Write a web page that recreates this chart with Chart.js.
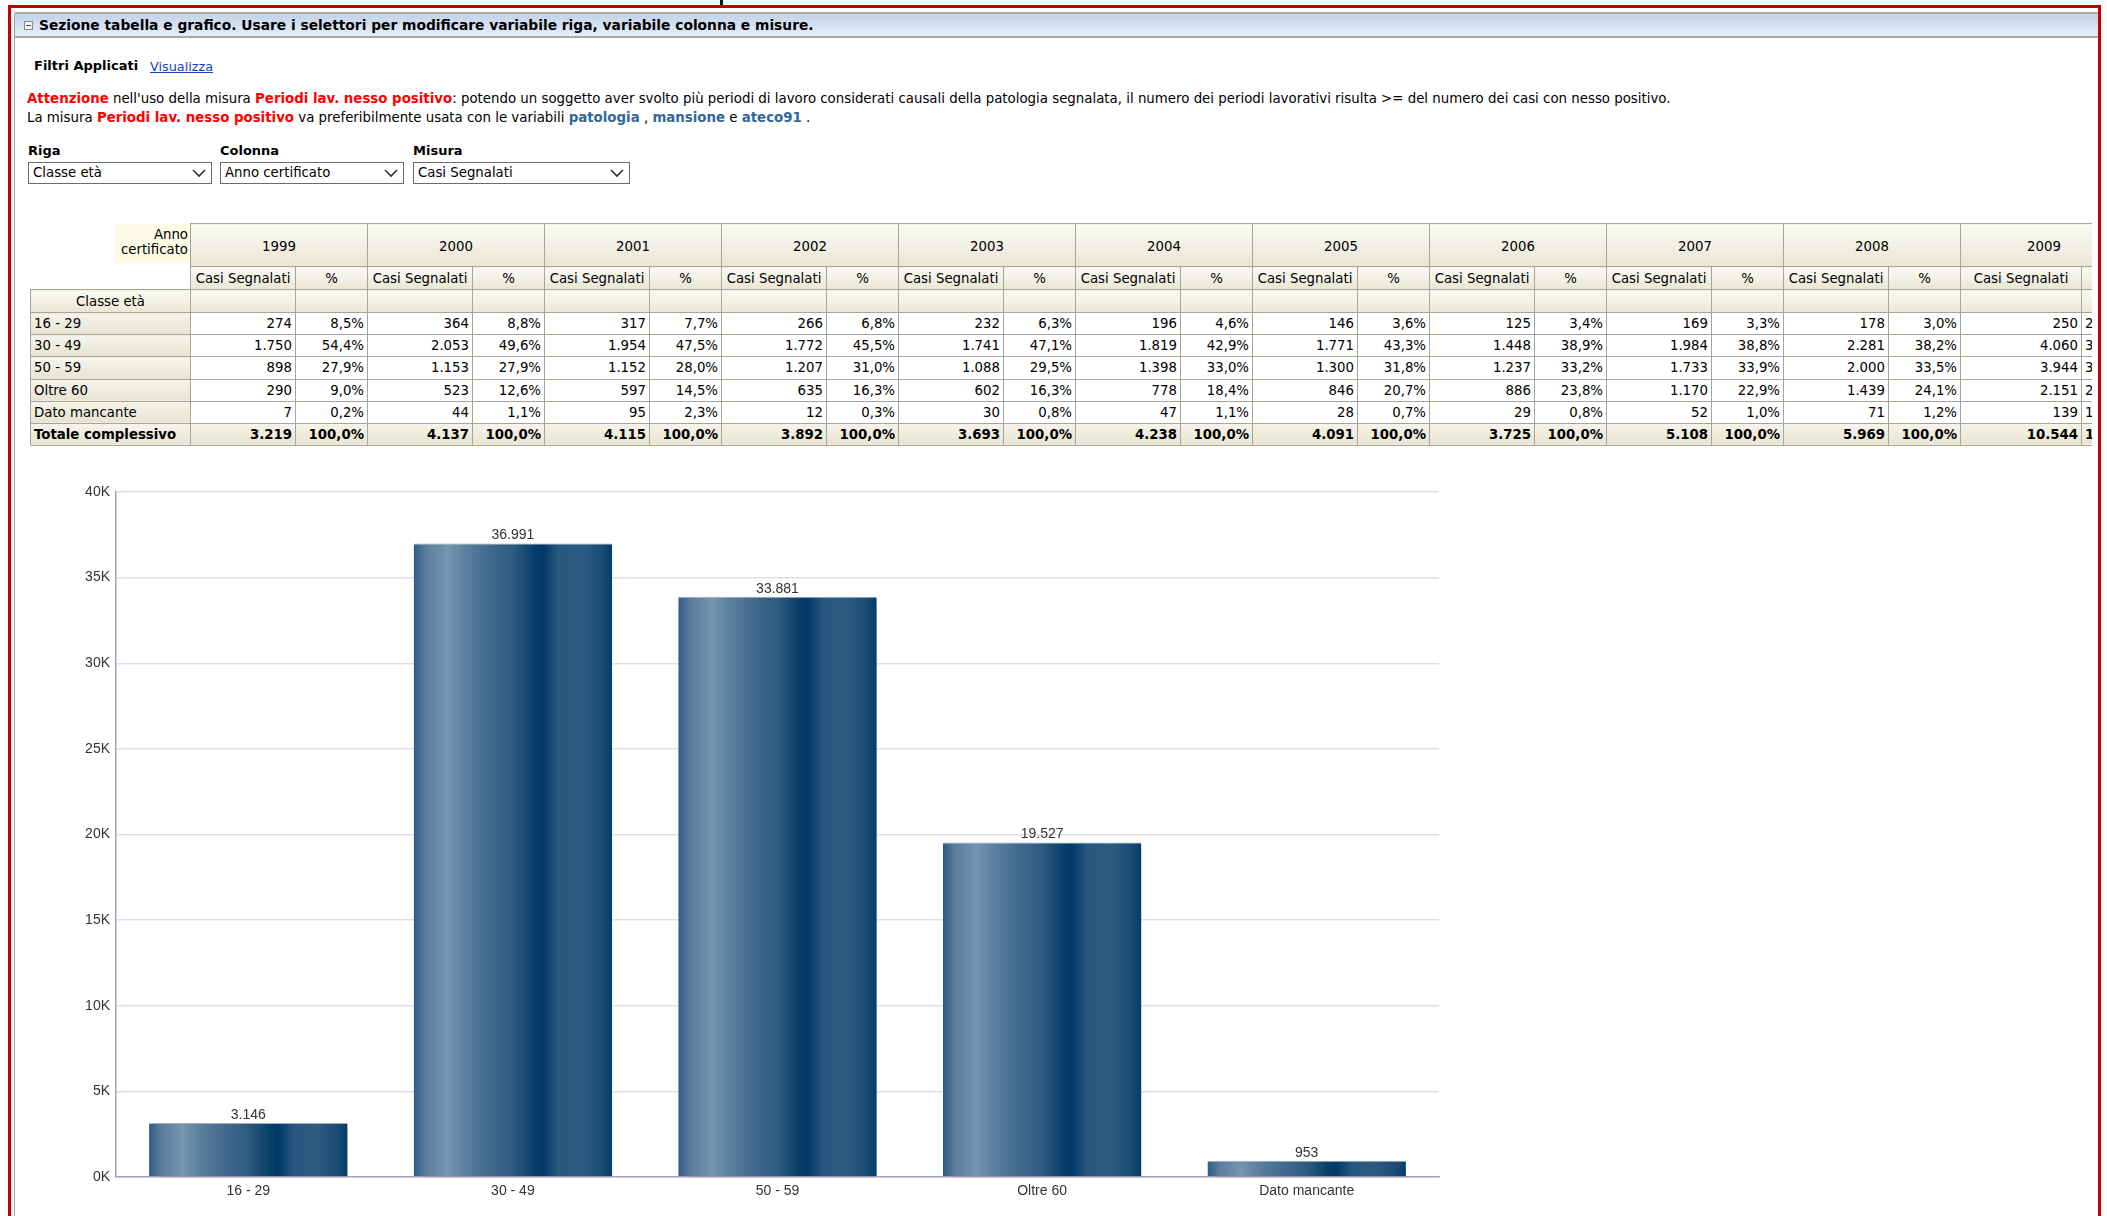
<!DOCTYPE html>
<html lang="it">
<head>
<meta charset="utf-8">
<title>Sezione tabella e grafico</title>
<script src="https://cdn.jsdelivr.net/npm/chart.js"></script>
<style>
  html, body { margin: 0; padding: 0; background: #fff; }
  body { width: 2107px; height: 1216px; overflow: hidden; position: relative;
         font-family: "DejaVu Sans", Verdana, sans-serif; font-size: 13px; color: #000; }
  .abs { position: absolute; }
  .tick { left: 720px; top: 0; width: 3px; height: 7px; background: #111; }
  .frame { left: 8px; top: 5px; width: 2087px; height: 1300px; border: 3px solid #c40000; }
  .panel { left: 14px; top: 12px; width: 2086px; height: 1300px; border-left: 1px solid #a8a8a0;
           border-top: 1px solid #a8a8a0; border-top-left-radius: 3px; }
  .bar { left: 15px; top: 12px; width: 2083px; height: 22px; border-top: 2px solid #a9a9a0;
         border-bottom: 2px solid #a9a9a0; background: linear-gradient(#c4d2e6, #e5effc); }
  .bar .ico { left: 9px; top: 7px; width: 7px; height: 7px; border: 1px solid #8a8a8a; background: #f4f4f4; }
  .bar .ico:after { content: ""; position: absolute; left: 1px; top: 3px; width: 5px; height: 1px; background: #555; }
  .bar .ttl { left: 24px; top: 3px; font-weight: bold; font-size: 13.8px; white-space: nowrap; }
  .filtri { left: 34px; top: 58px; font-weight: bold; font-size: 13px; }
  .vis { left: 150px; top: 59px; font-size: 12.8px; color: #1a3fbf; text-decoration: underline; }
  .warn { left: 27px; font-size: 13.35px; white-space: nowrap; }
  .red { color: #ff0000; font-weight: bold; }
  .blu { color: #336699; font-weight: bold; }
  .lbl { font-weight: bold; font-size: 13px; top: 143px; }
  .sel { top: 162px; height: 20px; border: 1px solid #6c6c6c; background: #fff; font-size: 13.3px;
         line-height: 20px; padding-left: 4px; box-sizing: content-box; }
  .sel svg { position: absolute; right: 5px; top: 6px; }
  .tblwrap { left: 30px; top: 223px; width: 2062px; height: 228px; overflow: hidden; }
  table { border-collapse: collapse; table-layout: fixed; font-size: 13.3px; }
  td, th { border: 1px solid #a7a498; padding: 0 3px; height: 21px; white-space: nowrap; overflow: hidden; }
  th { font-weight: normal; background: linear-gradient(#fbfbf3, #e8e6d4); }
  th.yr { height: 40px; padding-top: 2px; }
  tr.sub th { height: 22px; }
  tr.cl th { height: 22px; }
  td { text-align: right; height: 21.2px; }
  td.last { text-align: left; }
  td.rh { text-align: left; background: linear-gradient(#f6f5ea, #e6e3d0); }
  tr.tot td { font-weight: bold; background: linear-gradient(#f6f5ea, #e6e3d0); }
  th.corner { border: none; background: none; text-align: right; padding: 0; vertical-align: top; }
  th.corner div { margin-left: 84px; background: #fbfbe6; text-align: right; line-height: 15px;
                  padding: 3px 2px 6px 0; }
  th.blank { border: none; background: none; }
  .chartbox { left: 30px; top: 470px; width: 1430px; height: 745px; }
</style>
</head>
<body>
<div class="abs tick"></div>
<div class="abs panel"></div>
<div class="abs bar">
  <div class="abs ico"></div>
  <div class="abs ttl">Sezione tabella e grafico. Usare i selettori per modificare variabile riga, variabile colonna e misure.</div>
</div>
<div class="abs frame"></div>

<div class="abs filtri">Filtri Applicati</div>
<div class="abs vis">Visualizza</div>

<div class="abs warn" style="top:91px"><span class="red">Attenzione</span> nell'uso della misura <span class="red">Periodi lav. nesso positivo</span>: potendo un soggetto aver svolto più periodi di lavoro considerati causali della patologia segnalata, il numero dei periodi lavorativi risulta &gt;= del numero dei casi con nesso positivo.</div>
<div class="abs warn" style="top:110px">La misura <span class="red">Periodi lav. nesso positivo</span> va preferibilmente usata con le variabili <span class="blu">patologia</span> , <span class="blu">mansione</span> e <span class="blu">ateco91</span> .</div>

<div class="abs lbl" style="left:28px">Riga</div>
<div class="abs lbl" style="left:220px">Colonna</div>
<div class="abs lbl" style="left:413px">Misura</div>
<div class="abs sel" style="left:28px;width:178px">Classe età<svg width="14" height="9"><polyline points="1,1 7,7 13,1" fill="none" stroke="#333" stroke-width="1.6"/></svg></div>
<div class="abs sel" style="left:220px;width:178px">Anno certificato<svg width="14" height="9"><polyline points="1,1 7,7 13,1" fill="none" stroke="#333" stroke-width="1.6"/></svg></div>
<div class="abs sel" style="left:413px;width:211px">Casi Segnalati<svg width="14" height="9"><polyline points="1,1 7,7 13,1" fill="none" stroke="#333" stroke-width="1.6"/></svg></div>

<div class="abs tblwrap"><table id="tbl"></table></div>

<div class="abs chartbox"><canvas id="chart"></canvas></div>

<script>
// grafico: totale casi segnalati per classe di età
const categories = ['16 - 29', '30 - 49', '50 - 59', 'Oltre 60', 'Dato mancante'];
const casiSegnalati = [3146, 36991, 33881, 19527, 953];
const yTicks = [0, 5000, 10000, 15000, 20000, 25000, 30000, 35000, 40000];

// tabella
const years = ['1999', '2000', '2001', '2002', '2003', '2004', '2005', '2006', '2007', '2008', '2009'];
const rowLabels = ['16 - 29', '30 - 49', '50 - 59', 'Oltre 60', 'Dato mancante'];
const count16_29 = ['274', '364', '317', '266', '232', '196', '146', '125', '169', '178', '250'];
const pct16_29 = ['8,5%', '8,8%', '7,7%', '6,8%', '6,3%', '4,6%', '3,6%', '3,4%', '3,3%', '3,0%', '2,4%'];
const count30_49 = ['1.750', '2.053', '1.954', '1.772', '1.741', '1.819', '1.771', '1.448', '1.984', '2.281', '4.060'];
const pct30_49 = ['54,4%', '49,6%', '47,5%', '45,5%', '47,1%', '42,9%', '43,3%', '38,9%', '38,8%', '38,2%', '38,5%'];
const count50_59 = ['898', '1.153', '1.152', '1.207', '1.088', '1.398', '1.300', '1.237', '1.733', '2.000', '3.944'];
const pct50_59 = ['27,9%', '27,9%', '28,0%', '31,0%', '29,5%', '33,0%', '31,8%', '33,2%', '33,9%', '33,5%', '37,4%'];
const countOltre60 = ['290', '523', '597', '635', '602', '778', '846', '886', '1.170', '1.439', '2.151'];
const pctOltre60 = ['9,0%', '12,6%', '14,5%', '16,3%', '16,3%', '18,4%', '20,7%', '23,8%', '22,9%', '24,1%', '20,4%'];
const countMancante = ['7', '44', '95', '12', '30', '47', '28', '29', '52', '71', '139'];
const pctMancante = ['0,2%', '1,1%', '2,3%', '0,3%', '0,8%', '1,1%', '0,7%', '0,8%', '1,0%', '1,2%', '1,3%'];
const countTotale = ['3.219', '4.137', '4.115', '3.892', '3.693', '4.238', '4.091', '3.725', '5.108', '5.969', '10.544'];

function buildTable() {
  const counts = [count16_29, count30_49, count50_59, countOltre60, countMancante];
  const pcts = [pct16_29, pct30_49, pct50_59, pctOltre60, pctMancante];
  const n = years.length;
  let total = 160;
  let h = '<colgroup><col style="width:160px">';
  years.forEach((y, i) => {
    const w = i == n - 1 ? 121 : 105;
    const wp = i == n - 1 ? 46 : 72;
    total += w + wp;
    h += `<col style="width:${w}px"><col style="width:${wp}px">`;
  });
  h += '</colgroup>';
  const pc = i => (i == n - 1 ? ' class="last"' : '');
  h += '<tr><th class="corner"><div>Anno<br>certificato</div></th>';
  years.forEach(y => h += `<th class="yr" colspan="2">${y}</th>`);
  h += '</tr><tr class="sub"><th class="blank"></th>';
  years.forEach(() => h += '<th>Casi Segnalati</th><th>%</th>');
  h += '</tr><tr class="cl"><th>Classe età</th>';
  years.forEach(() => h += '<th></th><th></th>');
  h += '</tr>';
  rowLabels.forEach((r, k) => {
    h += `<tr><td class="rh">${r}</td>`;
    years.forEach((_, i) => h += `<td>${counts[k][i]}</td><td${pc(i)}>${pcts[k][i]}</td>`);
    h += '</tr>';
  });
  h += '<tr class="tot"><td class="rh">Totale complessivo</td>';
  years.forEach((_, i) => h += `<td>${countTotale[i]}</td><td${pc(i)}>100,0%</td>`);
  h += '</tr>';
  const t = document.getElementById('tbl');
  t.style.width = total + 'px';
  t.innerHTML = h;
}
buildTable();

const barPct = 0.75;

function barGradient(c) {
  const chart = c.chart;
  const xs = chart.scales.x;
  if (!xs || c.dataIndex === undefined || !xs.width) return '#2c5a82';
  const cx = xs.getPixelForValue(c.dataIndex);
  const w = xs.width / categories.length * barPct;
  const g = chart.ctx.createLinearGradient(cx - w / 2, 0, cx + w / 2, 0);
  g.addColorStop(0.00, '#2f5b83');
  g.addColorStop(0.06, '#5a7d9c');
  g.addColorStop(0.17, '#7595b0');
  g.addColorStop(0.27, '#5a7d9d');
  g.addColorStop(0.38, '#416a8e');
  g.addColorStop(0.50, '#2f5a80');
  g.addColorStop(0.60, '#0b406d');
  g.addColorStop(0.65, '#003868');
  g.addColorStop(0.73, '#28587f');
  g.addColorStop(0.85, '#2d5b82');
  g.addColorStop(0.95, '#194b76');
  g.addColorStop(1.00, '#063b68');
  return g;
}

const fmt = v => String(v).replace(/\B(?=(\d{3})+(?!\d))/g, '.');

// ombra sotto le barre + etichette dei valori
const barDecor = {
  id: 'barDecor',
  beforeDatasetsDraw(chart) {
    const ctx = chart.ctx;
    ctx.save();
    ctx.shadowColor = 'rgba(0,0,0,0.32)';
    ctx.shadowBlur = 10;
    ctx.shadowOffsetX = 6;
    ctx.shadowOffsetY = 4;
  },
  afterDatasetsDraw(chart) {
    const ctx = chart.ctx;
    ctx.restore();
    ctx.save();
    ctx.font = '14px "Liberation Sans", Arial, sans-serif';
    ctx.fillStyle = '#333';
    ctx.textAlign = 'center';
    ctx.textBaseline = 'bottom';
    chart.getDatasetMeta(0).data.forEach((el, i) => {
      ctx.fillText(fmt(casiSegnalati[i]), el.x, el.y - 1);
    });
    ctx.restore();
  }
};

Chart.defaults.font.family = '"Liberation Sans", Arial, sans-serif';

new Chart(document.getElementById('chart'), {
  type: 'bar',
  data: {
    labels: categories,
    datasets: [{
      label: 'Casi Segnalati',
      data: casiSegnalati,
      backgroundColor: barGradient,
      borderColor: '#a9bccd',
      borderWidth: { top: 1, left: 0, right: 0, bottom: 0 },
      categoryPercentage: 1,
      barPercentage: barPct,
      clip: false
    }]
  },
  options: {
    responsive: true,
    maintainAspectRatio: false,
    animation: false,
    layout: { padding: { top: 22, right: 21, left: 0, bottom: 0 } },
    plugins: { legend: { display: false }, tooltip: { enabled: false } },
    scales: {
      x: {
        grid: { display: false, drawTicks: false },
        border: { color: '#a2a2bf', width: 1.5 },
        ticks: { color: '#333', font: { size: 14 }, padding: 6 },
        afterFit(s) { s.height = 38; }
      },
      y: {
        min: 0,
        max: 40000,
        afterBuildTicks(s) { s.ticks = yTicks.map(v => ({ value: v })); },
        grid: { color: '#dddde9', lineWidth: 1.5, drawTicks: false },
        border: { color: '#a2a2bf', width: 1.5 },
        ticks: { color: '#333', font: { size: 14 }, padding: 6, callback: v => (v / 1000) + 'K' },
        afterFit(s) { s.width = 86; }
      }
    }
  },
  plugins: [barDecor]
});
</script>
</body>
</html>
